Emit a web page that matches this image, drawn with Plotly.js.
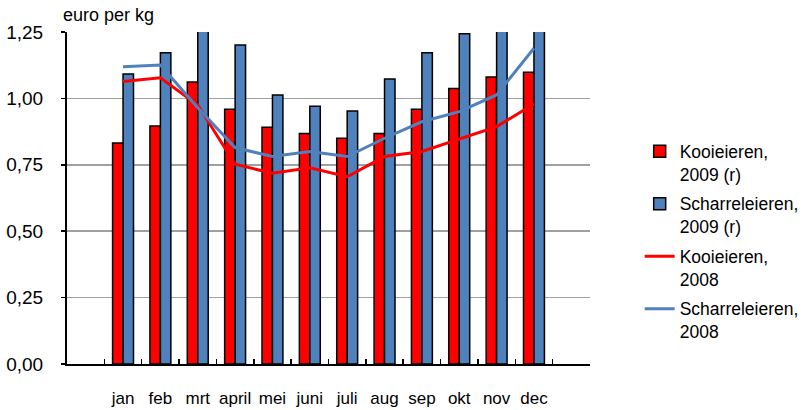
<!DOCTYPE html>
<html>
<head>
<meta charset="utf-8">
<script src="https://cdn.plot.ly/plotly-3.0.1.min.js"></script>
<style>html,body{margin:0;padding:0;background:#fff;}#chart{width:805px;height:410px;}</style>
</head>
<body>
<div id="chart"></div>
<script>
var months = ['jan','feb','mrt','april','mei','juni','juli','aug','sep','okt','nov','dec'];
var kooi2009 = [0.832,0.896,1.062,0.959,0.891,0.868,0.850,0.868,0.959,1.037,1.081,1.098];
var scharrel2009 = [1.092,1.172,1.30,1.201,1.013,0.970,0.953,1.073,1.172,1.243,1.30,1.34];
var kooi2008 = [1.064,1.078,0.975,0.752,0.718,0.739,0.705,0.781,0.800,0.846,0.894,0.979];
var scharrel2008 = [1.119,1.126,0.965,0.815,0.781,0.800,0.781,0.850,0.912,0.950,1.013,1.189];
var yTicks = [0, 0.25, 0.5, 0.75, 1.0, 1.25];

var font = 'Liberation Sans, Arial, sans-serif';
var traces = [
  {type:'bar', name:'Kooieieren,<br>2009 (r)', legendgroup:'a', x:months, y:kooi2009,
   marker:{color:'#FF0000', line:{color:'#000000', width:1.5}}},
  {type:'bar', name:'Scharreleieren,<br>2009 (r)', legendgroup:'b', x:months, y:scharrel2009,
   marker:{color:'#4F81BD', line:{color:'#000000', width:1.5}}},
  {type:'scatter', mode:'lines', name:'Kooieieren,<br>2008', legendgroup:'c', x:months, y:kooi2008,
   line:{color:'#FF0000', width:3}},
  {type:'scatter', mode:'lines', name:'Scharreleieren,<br>2008', legendgroup:'d', x:months, y:scharrel2008,
   line:{color:'#4F81BD', width:3}}
];

var layout = {
  width:805, height:410,
  margin:{l:67, r:215, t:32, b:46, autoexpand:false},
  paper_bgcolor:'#ffffff', plot_bgcolor:'#ffffff',
  separators:', ',
  font:{family:font, size:17, color:'#000000'},
  barmode:'group', bargap:0.44, bargroupgap:0,
  annotations:[{text:'euro per kg', xref:'paper', yref:'paper', x:-0.012, y:1.015,
                xanchor:'left', yanchor:'bottom', showarrow:false,
                font:{family:font, size:18, color:'#000'}}],
  xaxis:{type:'category', categoryorder:'array', categoryarray:months,
         range:[-1.5, 12.5], tickson:'boundaries', ticks:'inside', ticklen:5, tickwidth:1.5, tickcolor:'#000',
         showline:true, linecolor:'#000', linewidth:2, showgrid:false, zeroline:false, tickangle:0,
         tickfont:{family:font, size:17}, ticklabelstandoff:18, fixedrange:true},
  yaxis:{range:[0,1.25], tickmode:'array', tickvals:yTicks, tickformat:'.2f',
         ticks:'outside', ticklen:4, tickwidth:1.5, tickcolor:'#000',
         showline:true, linecolor:'#000', linewidth:2,
         showgrid:true, gridcolor:'#A0A0A0', gridwidth:1.5, zeroline:false,
         tickfont:{family:font, size:19}, ticklabelstandoff:14, fixedrange:true},
  legend:{x:1.095, xanchor:'left', y:0.695, yanchor:'top', valign:'top',
          font:{family:font, size:17.5}, bgcolor:'rgba(255,255,255,0)', tracegroupgap:4},
  showlegend:true
};

Plotly.newPlot('chart', traces, layout, {displayModeBar:false, staticPlot:true});
</script>
</body>
</html>
